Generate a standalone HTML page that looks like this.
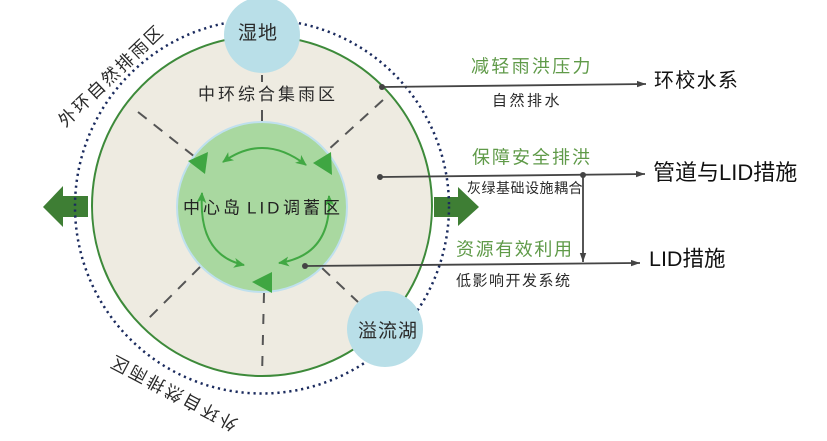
<!DOCTYPE html>
<html><head><meta charset="utf-8"><style>
html,body{margin:0;padding:0;background:#fff;}
svg{display:block;}
text{font-family:"Liberation Sans","Noto Sans CJK SC",sans-serif;}
</style></head><body>
<svg width="827" height="441" viewBox="0 0 827 441" xmlns="http://www.w3.org/2000/svg">
<defs>
<marker id="ah" markerUnits="userSpaceOnUse" markerWidth="10" markerHeight="8" refX="9" refY="4" orient="auto">
<path d="M0,0.8 L9,4 L0,7.2 Z" fill="#444"/>
</marker>
<marker id="gh" markerUnits="userSpaceOnUse" markerWidth="12" markerHeight="10" refX="10" refY="5" orient="auto-start-reverse">
<path d="M0,0 L11,5 L0,10 L3,5 Z" fill="#41a843"/>
</marker>
<path id="p1" d="M60,133 L175,23"/>
<path id="p2" d="M245,423.6 L100,347"/>
</defs>

<!-- main ring -->
<circle cx="262" cy="206" r="170" fill="#eeebe1" stroke="#3d8a3a" stroke-width="2"/>

<!-- dashed spokes -->
<g stroke="#555" stroke-width="2" fill="none">
<line x1="262" y1="75" x2="262" y2="82"/>
<line x1="262" y1="110" x2="262" y2="121"/>
<line x1="264" y1="293" x2="262" y2="376" stroke-dasharray="10 11"/>
<line x1="138" y1="112" x2="195" y2="157" stroke-dasharray="11 9"/>
<line x1="383" y1="100" x2="328" y2="150" stroke-dasharray="11 9"/>
<line x1="200" y1="267" x2="149" y2="318" stroke-dasharray="11 9"/>
<line x1="322" y1="268" x2="358" y2="302" stroke-dasharray="11 9"/>
</g>

<!-- inner green circle -->
<circle cx="262" cy="207" r="85" fill="#a9d8a0" stroke="#bfe0ee" stroke-width="2"/>

<!-- inner arcs -->
<g stroke="#41a843" stroke-width="2" fill="none">
<path d="M223,162 Q264,132.5 306,165" marker-start="url(#gh)" marker-end="url(#gh)"/>
<path d="M202,193 Q198,255 244,265" marker-start="url(#gh)" marker-end="url(#gh)"/>
<path d="M329,196 Q332,255 279,263" marker-start="url(#gh)" marker-end="url(#gh)"/>
</g>

<!-- big triangles -->
<g fill="#3fa642">
<polygon points="188,161 208,152 205,174"/>
<polygon points="313,163 331,152 332,175"/>
<polygon points="252,282 272,272 272,293"/>
</g>

<!-- big side arrows -->
<polygon points="43,207 63,186 63,196 88,196 88,217 63,217 63,227" fill="#3e7e34"/>
<polygon points="434,197 458,197 458,187 479,207 458,226 458,217 434,217" fill="#3e7e34"/>

<!-- dotted outer circle -->
<circle cx="262" cy="206.5" r="187" fill="none" stroke="#1b2b5e" stroke-width="2.5" stroke-dasharray="2.2 3.8"/>

<!-- blue nodes -->
<circle cx="262" cy="35" r="38" fill="#b9dfe8"/>
<circle cx="385" cy="329" r="38" fill="#b9dfe8"/>

<!-- node/zone texts -->
<text x="238" y="39" font-size="19" fill="#2a2a2a" letter-spacing="1">湿地</text>
<text x="358" y="337" font-size="19" fill="#2a2a2a" letter-spacing="1">溢流湖</text>
<text x="198" y="100" font-size="17" fill="#2a2a2a" letter-spacing="3">中环综合集雨区</text>
<text x="183" y="213.5" font-size="17" fill="#222" letter-spacing="3">中心岛</text>
<text x="247" y="213.5" font-size="17" fill="#222" letter-spacing="3">LID</text>
<text x="283" y="213.5" font-size="17" fill="#222" letter-spacing="3">调蓄区</text>

<!-- slanted outer texts -->
<text font-size="17.5" fill="#2a2a2a" letter-spacing="2.3"><textPath href="#p1" startOffset="7.4">外环自然排雨区</textPath></text>
<text font-size="17.5" fill="#2a2a2a" letter-spacing="2.85"><textPath href="#p2" startOffset="7">外环自然排雨区</textPath></text>

<!-- connector lines -->
<g stroke="#444" stroke-width="1.8" fill="none">
<line x1="382" y1="87" x2="646" y2="84" marker-end="url(#ah)"/>
<line x1="380" y1="177" x2="645" y2="174" marker-end="url(#ah)"/>
<line x1="583" y1="175" x2="583" y2="262" marker-end="url(#ah)"/>
<line x1="305" y1="266" x2="640" y2="263" marker-end="url(#ah)"/>
</g>
<g fill="#444">
<circle cx="382" cy="87" r="3"/>
<circle cx="380" cy="177" r="3"/>
<circle cx="583" cy="175" r="3"/>
<circle cx="305" cy="266" r="3"/>
</g>

<!-- right texts -->
<text x="471" y="72.5" font-size="18" fill="#5f9a48" letter-spacing="2.3">减轻雨洪压力</text>
<text x="492" y="105.5" font-size="15" fill="#2a2a2a" letter-spacing="2.5">自然排水</text>
<text x="654" y="87" font-size="20" fill="#111" letter-spacing="1.3">环校水系</text>

<text x="472" y="163.5" font-size="18" fill="#5f9a48" letter-spacing="2">保障安全排洪</text>
<text x="467" y="193" font-size="14" fill="#2a2a2a" letter-spacing="0.5">灰绿基础设施耦合</text>
<text x="653" y="180" font-size="22" fill="#111">管道与LID措施</text>

<text x="456" y="255.5" font-size="18" fill="#5f9a48" letter-spacing="1.6">资源有效利用</text>
<text x="456" y="285.5" font-size="15" fill="#2a2a2a" letter-spacing="1.5">低影响开发系统</text>
<text x="649" y="266" font-size="21.5" fill="#111">LID措施</text>
</svg>
</body></html>
